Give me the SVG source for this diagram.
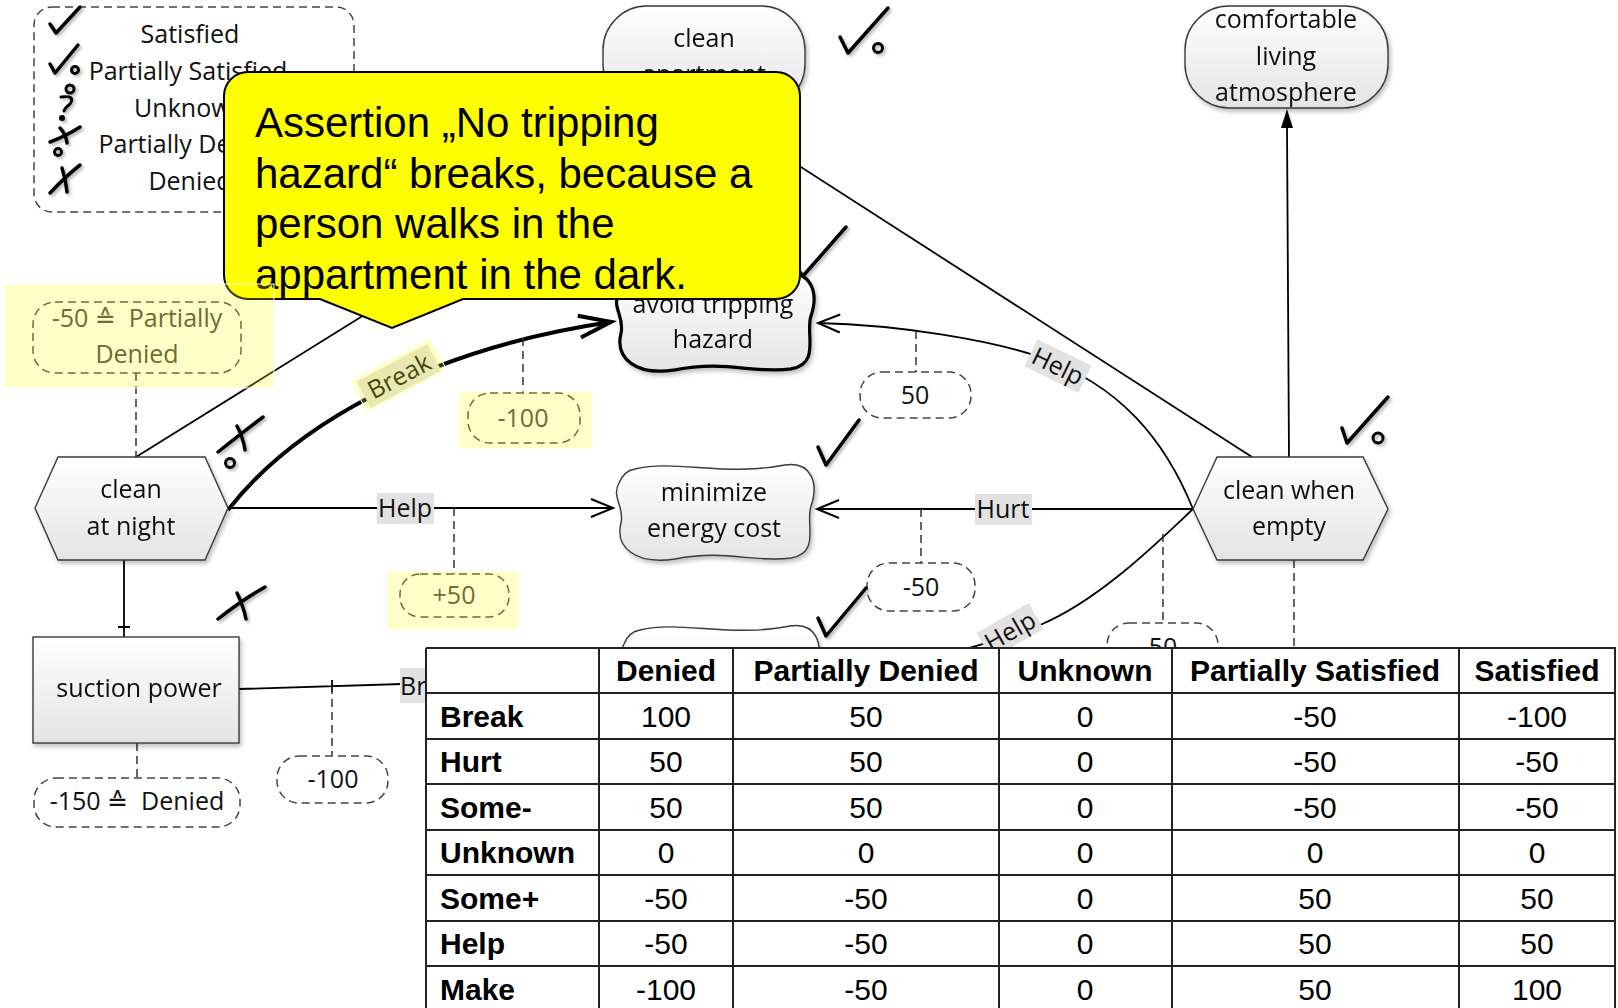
<svg xmlns="http://www.w3.org/2000/svg" width="1618" height="1008" viewBox="0 0 1618 1008">
  <style>
    .node { fill: url(#nodeFill); stroke: #3a3a3a; stroke-width: 1.4; }
    .lbl { font-family: "Open Sans", "Liberation Sans", "DejaVu Sans", sans-serif; font-size: 25px; fill: #111; }
    .mid { text-anchor: middle; }
    .edge { fill: none; stroke: #000; stroke-width: 1.8; }
    .bold { stroke-width: 4; }
    .dash { fill: none; stroke: #333; stroke-width: 1.5; stroke-dasharray: 8 5; }
    .anno { fill: #fff; stroke: #444; stroke-width: 1.5; stroke-dasharray: 8 5; }
    .tag { fill: #e2e2e2; }
    .ico { fill: none; stroke: #000; stroke-width: 3.5; stroke-linecap: round; stroke-linejoin: round; }
    .dot { stroke-width: 3; }
    .hl { fill: #ffff00; fill-opacity: 0.22; stroke: #fff; stroke-width: 1; }
    .th { font-family: "Liberation Sans", Arial, sans-serif; font-size: 30px; font-weight: bold; fill: #000; }
    .td { font-family: "Liberation Sans", Arial, sans-serif; font-size: 30px; fill: #000; text-anchor: middle; }
    .grid { stroke: #222; stroke-width: 2; fill: none; }
  </style>
  <defs>
    <linearGradient id="nodeFill" x1="0" y1="0" x2="0" y2="1">
      <stop offset="0" stop-color="#ffffff"/>
      <stop offset="1" stop-color="#e4e4e4"/>
    </linearGradient>
    <filter id="shadow" x="-10%" y="-10%" width="130%" height="130%">
      <feDropShadow dx="2" dy="3" stdDeviation="2" flood-color="#000" flood-opacity="0.25"/>
    </filter>
    <filter id="icoShadow" x="-20%" y="-20%" width="150%" height="150%">
      <feDropShadow dx="2" dy="2" stdDeviation="1.5" flood-color="#000" flood-opacity="0.3"/>
    </filter>
    <marker id="open" viewBox="-26 -12 30 24" markerWidth="30" markerHeight="24" refX="0" refY="0" orient="auto" markerUnits="userSpaceOnUse" overflow="visible">
      <path d="M -22 -9 L 0 0 L -22 9" fill="none" stroke="#000" stroke-width="2"/>
    </marker>
    <marker id="openBold" viewBox="-36 -14 40 28" markerWidth="40" markerHeight="28" refX="0" refY="0" orient="auto" markerUnits="userSpaceOnUse" overflow="visible">
      <path d="M -32 -11 L 0 0 L -32 11" fill="none" stroke="#000" stroke-width="4"/>
    </marker>
    <!-- softgoal outline, 200 x 100 -->
    <path id="cloud" d="M 20 8 C 60 -2 110 16 170 4 C 196 0 204 22 196 45 C 190 62 206 92 176 97 C 140 102 110 88 60 98 C 20 104 0 86 6 62 C 10 46 -4 36 4 22 C 8 12 14 9 20 8 Z"/>
  </defs>

  <rect width="1618" height="1008" fill="#fff"/>

  <!-- legend -->
  <g id="legend">
    <rect x="34" y="7" width="320" height="205" rx="18" class="anno"/>
    <g class="lbl mid">
      <text x="190" y="43">Satisfied</text>
      <text x="188" y="80">Partially Satisfied</text>
      <text x="190" y="117">Unknown</text>
      <text x="190" y="153">Partially Denied</text>
      <text x="190" y="190">Denied</text>
    </g>
    <g class="ico" filter="url(#icoShadow)">
      <path d="M 50 24 L 56 33 L 80 7"/>
      <path d="M 50 64 L 55 73 L 78 45"/>
      <circle class="dot" cx="75" cy="70" r="3.5"/>
      <circle class="dot" cx="70" cy="89" r="4"/>
      <path class="dot" d="M 61 97 Q 76 95 70 104 Q 65 108 64 111"/>
      <circle class="dot" cx="62" cy="118" r="1.5"/>
      <path d="M 50 142 Q 66 136 80 127"/>
      <path d="M 60 128 Q 66 134 67 143"/>
      <circle class="dot" cx="58" cy="152" r="3.5"/>
      <path d="M 50 193 Q 66 176 80 165"/>
      <path d="M 62 168 Q 66 180 67 192"/>
    </g>
  </g>

  <!-- connectors -->
  <g id="connectors">
    <path class="edge" d="M 136 457 L 700 106"/>
    <path class="edge" d="M 1252 457 L 706 106"/>
    <path class="edge" d="M 1289 457 L 1287 126"/>
    <polygon points="1287,109 1281,128 1293,128" fill="#000"/>
    <path class="edge bold" d="M 228 510 C 290 430 420 350 611 322" marker-end="url(#openBold)"/>
    <path class="edge" d="M 228 508 L 613 508" marker-end="url(#open)"/>
    <path class="edge" d="M 1193 509 L 817 509" marker-end="url(#open)"/>
    <path class="edge" d="M 1193 509 C 1165 440 1120 385 1040 357 C 990 340 900 325 818 323" marker-end="url(#open)"/>
    <path class="edge" d="M 1193 509 C 1160 540 1100 600 1040 625 C 1010 637 980 645 955 652"/>
    <path class="edge" d="M 124 560 L 124 637 M 118 627 H 130"/>
    <path class="edge" d="M 239 689 L 402 684 M 332 680 V 692"/>
    <!-- contribution value links -->
    <path class="dash" d="M 136 373 V 457"/>
    <path class="dash" d="M 523 338 V 393"/>
    <path class="dash" d="M 454 508 V 574"/>
    <path class="dash" d="M 916 331 V 372"/>
    <path class="dash" d="M 921 509 V 563"/>
    <path class="dash" d="M 1163 534 V 623"/>
    <path class="dash" d="M 1294 560 V 648"/>
    <path class="dash" d="M 137 743 V 778"/>
    <path class="dash" d="M 332 686 V 756"/>
  </g>

  <!-- link labels -->
  <g id="link-labels" class="lbl">
    <g transform="translate(399,376) rotate(-28)">
      <rect class="tag" x="-40" y="-15" width="80" height="30"/>
      <text class="mid" x="0" y="9">Break</text>
    </g>
    <rect class="tag" x="377" y="493" width="57" height="31"/>
    <text class="mid" x="405" y="517">Help</text>
    <rect class="tag" x="975" y="494" width="57" height="31"/>
    <text class="mid" x="1003" y="518">Hurt</text>
    <g transform="translate(1058,366) rotate(26)">
      <rect class="tag" x="-30" y="-15" width="60" height="30"/>
      <text class="mid" x="0" y="9">Help</text>
    </g>
    <g transform="translate(1010,631) rotate(-30)">
      <rect class="tag" x="-30" y="-15" width="60" height="30"/>
      <text class="mid" x="0" y="9">Help</text>
    </g>
    <rect class="tag" x="400" y="668" width="30" height="35"/>
    <text x="400" y="695">Br</text>
  </g>

  <!-- nodes -->
  <g id="clean-apartment" filter="url(#shadow)">
    <rect class="node" x="603" y="6" width="202" height="102" rx="44"/>
    <text class="lbl mid" x="704" y="47">clean</text>
    <text class="lbl mid" x="704" y="83">apartment</text>
  </g>
  <g id="comfortable-living-atmosphere" filter="url(#shadow)">
    <rect class="node" x="1185" y="6" width="203" height="102" rx="44"/>
    <text class="lbl mid" x="1286" y="28">comfortable</text>
    <text class="lbl mid" x="1286" y="65">living</text>
    <text class="lbl mid" x="1286" y="101">atmosphere</text>
  </g>
  <g id="avoid-tripping-hazard" filter="url(#shadow)">
    <use href="#cloud" class="node" transform="translate(615,270) scale(1.0,1.02)" style="stroke:#000;stroke-width:3.2"/>
    <text class="lbl mid" x="713" y="313">avoid tripping</text>
    <text class="lbl mid" x="713" y="348">hazard</text>
  </g>
  <g id="minimize-energy-cost" filter="url(#shadow)">
    <use href="#cloud" class="node" transform="translate(615,461)"/>
    <text class="lbl mid" x="714" y="501">minimize</text>
    <text class="lbl mid" x="714" y="537">energy cost</text>
  </g>
  <g id="lower-softgoal" filter="url(#shadow)">
    <use href="#cloud" class="node" transform="translate(620,622)"/>
  </g>
  <g id="clean-at-night" filter="url(#shadow)">
    <polygon class="node" points="35,508 58,457 205,457 228,508 205,560 58,560"/>
    <text class="lbl mid" x="131" y="498">clean</text>
    <text class="lbl mid" x="131" y="535">at night</text>
  </g>
  <g id="clean-when-empty" filter="url(#shadow)">
    <polygon class="node" points="1193,509 1217,457 1363,457 1388,509 1363,560 1217,560"/>
    <text class="lbl mid" x="1289" y="499">clean when</text>
    <text class="lbl mid" x="1289" y="535">empty</text>
  </g>
  <g id="suction-power" filter="url(#shadow)">
    <rect class="node" x="33" y="637" width="206" height="106"/>
    <text class="lbl mid" x="139" y="697">suction power</text>
  </g>

  <!-- contribution / evaluation values -->
  <g id="values" class="lbl">
    <rect class="anno" x="33" y="302" width="208" height="71" rx="22"/>
    <text class="mid" x="137" y="327" fill="#444">-50 ≙&#160;&#160;Partially</text>
    <text class="mid" x="137" y="363" fill="#444">Denied</text>
    <rect class="anno" x="468" y="393" width="112" height="50" rx="22"/>
    <text class="mid" x="523" y="427" fill="#444">-100</text>
    <rect class="anno" x="400" y="574" width="109" height="43" rx="20"/>
    <text class="mid" x="454" y="604" fill="#444">+50</text>
    <rect class="anno" x="860" y="372" width="111" height="46" rx="22"/>
    <text class="mid" x="915" y="404">50</text>
    <rect class="anno" x="867" y="563" width="108" height="48" rx="22"/>
    <text class="mid" x="921" y="596">-50</text>
    <rect class="anno" x="1107" y="623" width="111" height="48" rx="22"/>
    <text class="mid" x="1163" y="656">50</text>
    <rect class="anno" x="277" y="756" width="111" height="47" rx="22"/>
    <text class="mid" x="333" y="788">-100</text>
    <rect class="anno" x="34" y="778" width="206" height="49" rx="22"/>
    <text class="mid" x="137" y="810">-150 ≙&#160;&#160;Denied</text>
  </g>

  <!-- evaluation marks -->
  <g id="marks" class="ico" filter="url(#icoShadow)">
    <path d="M 840 37 L 848 53 L 888 8"/>
    <circle class="dot" cx="878" cy="48" r="4.5"/>
    <path d="M 1342 428 L 1347 443 L 1388 397"/>
    <circle class="dot" cx="1378" cy="438" r="5"/>
    <path d="M 788 257 L 803 276 L 846 227"/>
    <path d="M 818 447 L 826 465 L 859 420"/>
    <path d="M 818 618 L 826 636 L 866 588"/>
    <path d="M 218 452 Q 242 433 263 417"/>
    <path d="M 237 426 Q 243 437 245 450"/>
    <circle class="dot" cx="230" cy="463" r="4.5"/>
    <path d="M 218 619 Q 242 600 265 587"/>
    <path d="M 237 593 Q 243 605 246 619"/>
  </g>

  <!-- assertion callout -->
  <g id="callout">
    <path d="M 248 72 H 776 A 24 24 0 0 1 800 96 V 275 A 24 24 0 0 1 776 299 H 463 L 392 328 L 320 299 H 248 A 24 24 0 0 1 224 275 V 96 A 24 24 0 0 1 248 72 Z" fill="#ffff00" stroke="#000" stroke-width="2"/>
    <g font-family="'Liberation Sans', Arial, sans-serif" font-size="42" fill="#000">
      <text x="255" y="137">Assertion „No tripping</text>
      <text x="255" y="188">hazard“ breaks, because a</text>
      <text x="255" y="238">person walks in the</text>
      <text x="255" y="289">appartment in the dark.</text>
    </g>
  </g>

  <!-- contribution table -->
  <g id="contribution-table">
    <rect x="426" y="648" width="1189" height="364" fill="#fff"/>
    <path class="grid" d="M 426 648 H 1615 V 1012 M 426 648 V 1012
      M 426 693 H 1615 M 426 739 H 1615 M 426 784 H 1615 M 426 830 H 1615 M 426 875 H 1615 M 426 921 H 1615 M 426 966 H 1615
      M 599 648 V 1012 M 733 648 V 1012 M 999 648 V 1012 M 1172 648 V 1012 M 1459 648 V 1012"/>
    <g class="th" text-anchor="middle">
      <text x="666" y="681">Denied</text>
      <text x="866" y="681">Partially Denied</text>
      <text x="1085" y="681">Unknown</text>
      <text x="1315" y="681">Partially Satisfied</text>
      <text x="1537" y="681">Satisfied</text>
    </g>
    <g class="th">
      <text x="440" y="727">Break</text>
      <text x="440" y="772">Hurt</text>
      <text x="440" y="818">Some-</text>
      <text x="440" y="863">Unknown</text>
      <text x="440" y="909">Some+</text>
      <text x="440" y="954">Help</text>
      <text x="440" y="1000">Make</text>
    </g>
    <g class="td">
      <text x="666" y="727">100</text><text x="866" y="727">50</text><text x="1085" y="727">0</text><text x="1315" y="727">-50</text><text x="1537" y="727">-100</text>
      <text x="666" y="772">50</text><text x="866" y="772">50</text><text x="1085" y="772">0</text><text x="1315" y="772">-50</text><text x="1537" y="772">-50</text>
      <text x="666" y="818">50</text><text x="866" y="818">50</text><text x="1085" y="818">0</text><text x="1315" y="818">-50</text><text x="1537" y="818">-50</text>
      <text x="666" y="863">0</text><text x="866" y="863">0</text><text x="1085" y="863">0</text><text x="1315" y="863">0</text><text x="1537" y="863">0</text>
      <text x="666" y="909">-50</text><text x="866" y="909">-50</text><text x="1085" y="909">0</text><text x="1315" y="909">50</text><text x="1537" y="909">50</text>
      <text x="666" y="954">-50</text><text x="866" y="954">-50</text><text x="1085" y="954">0</text><text x="1315" y="954">50</text><text x="1537" y="954">50</text>
      <text x="666" y="1000">-100</text><text x="866" y="1000">-50</text><text x="1085" y="1000">0</text><text x="1315" y="1000">50</text><text x="1537" y="1000">100</text>
    </g>
  </g>

  <!-- highlighter marks -->
  <g id="highlights">
    <rect class="hl" x="4" y="284" width="270" height="104"/>
    <rect class="hl" x="458" y="391" width="134" height="58"/>
    <rect class="hl" x="387" y="571" width="132" height="59"/>
    <rect class="hl" x="-45" y="-19" width="90" height="36" transform="translate(399,376) rotate(-28)"/>
  </g>
</svg>
